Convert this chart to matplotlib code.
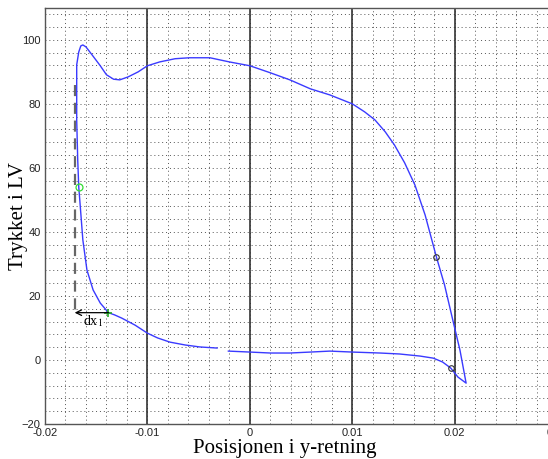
import numpy as np
import matplotlib.pyplot as plt

# Trykk-posisjon sløyfe (x: posisjon i y-retning, y: trykk i LV)
pos_y = [-0.0032, -0.0049, -0.0063, -0.0078, -0.0090, -0.0100, -0.0112, -0.0125,
         -0.0132, -0.0138, -0.0146, -0.0153, -0.0159, -0.0163, -0.0166, -0.0167,
         -0.0168, -0.0169, -0.0169, -0.0169, -0.0167, -0.0165, -0.0163, -0.0160,
         -0.0154, -0.0146, -0.0140, -0.0133, -0.0127, -0.0119, -0.0109, -0.0100,
         -0.0088, -0.0073, -0.0059, -0.0039, -0.0020, 0.0000, 0.0020, 0.0039,
         0.0059, 0.0078, 0.0100, 0.0112, 0.0122, 0.0132, 0.0141, 0.0151,
         0.0161, 0.0171, 0.0182, 0.0190, 0.0198, 0.0205, 0.0211, 0.0203,
         0.0196, 0.0188, 0.0179, 0.0166, 0.0146, 0.0127, 0.0100, 0.0078,
         0.0059, 0.0039, 0.0020, 0.0000, -0.0021]
trykk = [3.75, 4.1, 4.7, 5.6, 6.9, 8.4, 10.9, 13.1,
         14.1, 14.8, 17.8, 21.9, 28.1, 37.5, 50.0, 54.0,
         62.5, 75.0, 86.0, 92.2, 96.2, 98.1, 98.4, 97.8,
         95.3, 91.9, 89.1, 87.7, 87.5, 88.4, 90.0, 91.9,
         93.1, 94.1, 94.4, 94.4, 93.1, 91.9, 89.7, 87.5,
         84.7, 82.8, 80.0, 77.5, 75.0, 71.3, 67.2, 61.6,
         54.7, 45.3, 32.2, 23.4, 12.5, 3.1, -7.2, -5.3,
         -2.5, -0.6, 0.6, 1.25, 1.9, 2.2, 2.5, 2.8,
         2.5, 2.2, 2.2, 2.5, 2.8]

# markerte punkter
gronn_sirkel = (-0.0167, 54.0)
gronn_kryss = (-0.0138, 14.8)
svarte_sirkler_x = [0.0182, 0.0196]
svarte_sirkler_y = [32.2, -2.5]

# stiplet linje og dx1-pil
dx_linje_x = -0.0171
dx_linje_y = [86.0, 14.8]

x_ticks = [-0.02, -0.01, 0, 0.01, 0.02, 0.03]
x_tick_labels = ['-0.02', '-0.01', '0', '0.01', '0.02', '0.03']
y_ticks = [-20, 0, 20, 40, 60, 80, 100]

plt.rcParams['font.family'] = ['Liberation Sans', 'DejaVu Sans']

fig = plt.figure(figsize=(5.48, 4.59), dpi=100)
ax = fig.add_axes([0.082, 0.076, 1.017 - 0.082, 0.983 - 0.076])

ax.set_xlim(-0.02, 0.03)
ax.set_ylim(-20, 110)

# prikket rutenett
for gx in np.arange(-0.02, 0.0301, 0.002):
    ax.axvline(gx, color='#555555', ls=(0, (1, 3)), lw=0.7, zorder=0)
for gy in np.arange(-20, 110, 4):
    ax.axhline(gy, color='#555555', ls=(0, (1, 3)), lw=0.7, zorder=0)
# heltrukne linjer ved hovedmerkene
for gx in [-0.01, 0, 0.01, 0.02, 0.03]:
    ax.axvline(gx, color='#333333', lw=1.2, zorder=1)

ax.plot([dx_linje_x, dx_linje_x], dx_linje_y, color='#666666', ls=(0, (5, 3)),
        lw=1.6, zorder=2)
ax.plot(pos_y, trykk, color='#3a3aff', lw=1.0, zorder=3)

ax.plot(*gronn_sirkel, 'o', mfc='none', mec='#33dd33', ms=5, mew=0.9, zorder=4)
ax.plot(*gronn_kryss, '+', color='#22aa22', ms=6, mew=1.2, zorder=4)
ax.plot(svarte_sirkler_x, svarte_sirkler_y, 'o', mfc='none', mec='#333333',
        ms=4, mew=0.8, zorder=4)

ax.annotate('', xy=(dx_linje_x, gronn_kryss[1]), xytext=gronn_kryss,
            arrowprops=dict(arrowstyle='->', color='black', lw=0.9,
                            shrinkA=0, shrinkB=0), zorder=5)
ax.text(-0.0163, 12.3, 'dx$_{1}$', fontsize=10, family='Liberation Serif',
        va='center', ha='left', math_fontfamily='stix')

ax.set_xticks(x_ticks)
ax.set_xticklabels(x_tick_labels)
ax.set_yticks(y_ticks)
ax.tick_params(direction='in', length=0, labelsize=8, colors='#222222', pad=3)

for s in ax.spines.values():
    s.set_color('#555555')
    s.set_linewidth(1.0)

ax.set_xlabel('Posisjonen i y-retning', family='Liberation Serif', fontsize=15)
ax.xaxis.set_label_coords(0.469, -0.036)
ax.set_ylabel('Trykket i LV', family='Liberation Serif', fontsize=15)
ax.yaxis.set_label_coords(-0.034, 0.5)

fig.savefig('out.png', dpi=100)
